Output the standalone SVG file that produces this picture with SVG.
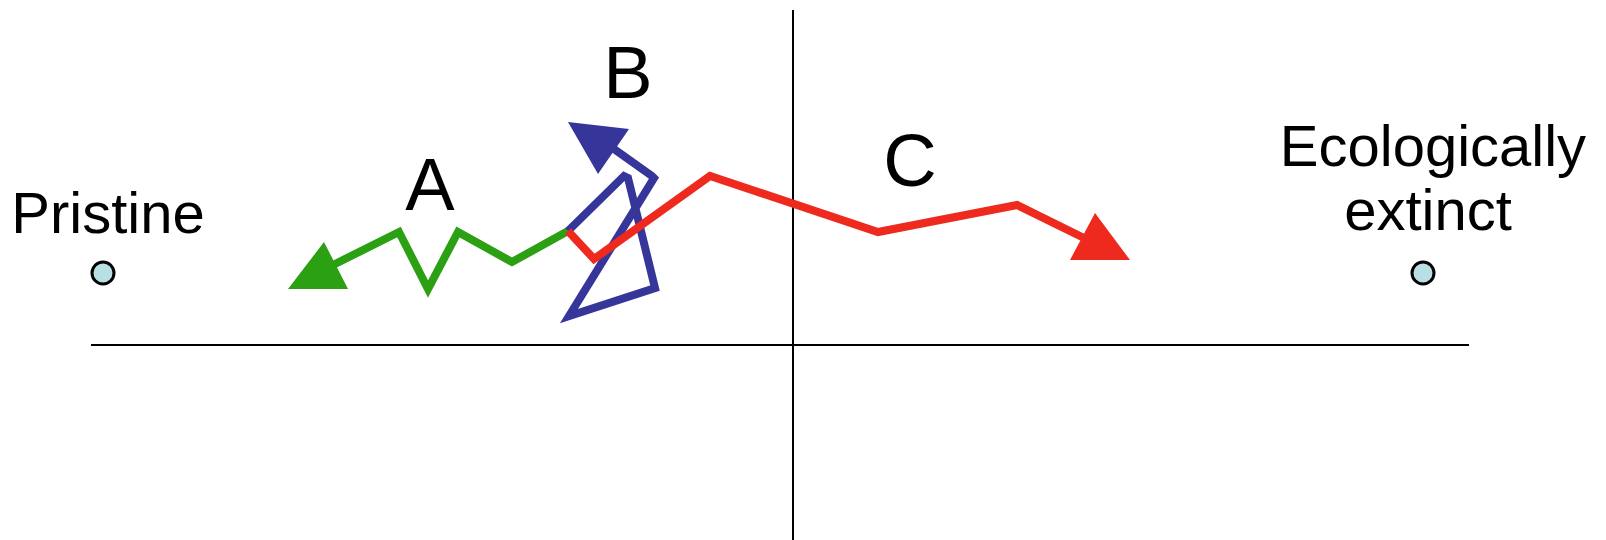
<svg xmlns="http://www.w3.org/2000/svg" width="1606" height="540" viewBox="0 0 1606 540">
<style>
.axis{stroke:#000;stroke-width:2;fill:none}
.path{fill:none;stroke-width:8;stroke-linejoin:miter;stroke-linecap:butt}
.lbl{font-family:"Liberation Sans",Arial,sans-serif;fill:#000}
.big{font-size:74px;text-anchor:middle}
.end{font-size:58px;text-anchor:middle}
.pt{fill:#b8dfe3;stroke:#000;stroke-width:3}
</style>
<rect width="1606" height="540" fill="#fff"/>
<g id="axes">
<line class="axis" x1="793" y1="10" x2="793" y2="540"/>
<line class="axis" x1="91" y1="345" x2="1469" y2="345"/>
</g>
<g id="pristine">
<text class="lbl end" x="108" y="233">Pristine</text>
<circle class="pt" cx="103" cy="273" r="11"/>
</g>
<g id="extinct">
<text class="lbl end" x="1433" y="166">Ecologically</text>
<text class="lbl end" x="1428" y="230">extinct</text>
<circle class="pt" cx="1423" cy="273" r="11"/>
</g>
<g id="label-A"><text class="lbl big" x="430" y="210">A</text></g>
<g id="label-B"><text class="lbl big" x="628" y="98">B</text></g>
<g id="label-C"><text class="lbl big" x="910" y="186">C</text></g>
<g id="connectors">
<g id="path-A">
<polyline class="path" stroke="#2aa012" points="568,231 512,262 458,232 428,289 399,232 333,265"/>
<polygon fill="#2aa012" points="288,289 324,242 348,289"/>
</g>
<g id="path-B">
<polyline class="path" stroke="#36369a" points="568,231 624,176 628,178 655,288 569,316 654,178 652,176 614,149"/>
<polygon fill="#36369a" points="568,122 629,129 598,174"/>
</g>
<g id="path-C">
<polyline class="path" stroke="#ee2a1f" points="568,231 594,259 710,176 878,232 1017,205 1084,238"/>
<polygon fill="#ee2a1f" points="1130,260 1095,213 1070,260"/>
</g>
</g>
</svg>
